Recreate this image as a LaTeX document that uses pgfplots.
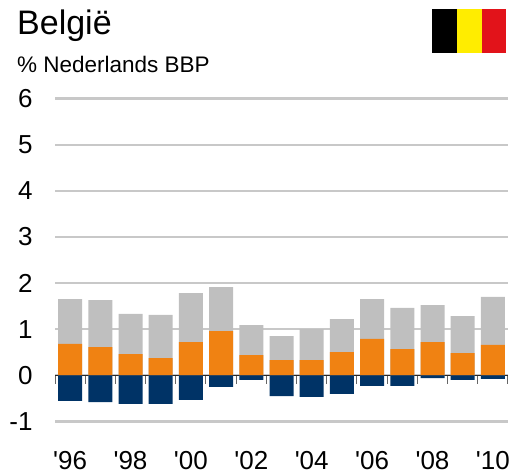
\documentclass[border=0pt]{standalone}
\usepackage{pgfplots}
\usepackage{fontspec}
\setmainfont{Liberation Sans}
\newfontfamily\plainsans{Liberation Sans}
\pgfplotsset{compat=1.18}
\definecolor{gridgrey}{HTML}{C8C8C8}
\definecolor{bargrey}{HTML}{BFBFBF}
\definecolor{barorange}{HTML}{F08212}
\definecolor{barnavy}{HTML}{003366}
\definecolor{flagyellow}{HTML}{FFED00}
\definecolor{flagred}{HTML}{E2131A}
\pgfplotsset{layers/barsfirst/.define layer set={axis background,axis grid,main,axis ticks,axis lines,axis tick labels,axis descriptions,axis foreground}{}}
\begin{document}
\begin{tikzpicture}[x=1pt,y=1pt]
% page frame, 1pt = 1px of the reference
\path (0,0) rectangle (514,473);
\begin{axis}[
    at={(55pt,51.6pt)},anchor=south west,
    scale only axis,
    width=453pt,height=322.7pt,
    set layers=barsfirst,
    xmin=1995.5,xmax=2010.5,
    ymin=-1,ymax=6,
    axis x line=middle,
    axis y line=left,
    axis line style={-},
    x axis line style={draw=black!85,line width=1pt},
    y axis line style={draw=none},
    xtick={1996,1998,...,2010},
    xticklabels={'96,'98,'00,'02,'04,'06,'08,'10},
    minor xtick={1995.5,1996.5,...,2010.5},
    major tick length=0pt,
    minor tick length=8.5pt,
    tick align=outside,
    minor x tick style={draw=black!60,line width=1pt},
    x tick style={draw=none},
    y tick style={draw=none},
    ytick={-1,0,...,6},
    yticklabels={-1,0,1,2,3,4,5,6},
    ymajorgrids=true,
    grid style={draw=gridgrey,line width=2.4pt},
    tick label style={font=\plainsans\fontsize{26}{30}\selectfont},
    xticklabel style={anchor=base,inner sep=0pt,yshift=-94.5pt},
    yticklabel style={anchor=east,xshift=-19pt},
    ybar,
    bar shift=0pt,
    bar width=24pt,
    clip=false,
]
% grey: top of the stack (total), orange in front of it
\addplot[fill=bargrey,draw=none] coordinates {
(1996,1.65)(1997,1.63)(1998,1.33)(1999,1.31)(2000,1.78)(2001,1.91)(2002,1.09)
(2003,0.85)(2004,1.00)(2005,1.22)(2006,1.65)(2007,1.46)(2008,1.52)(2009,1.285)(2010,1.70)};
\addplot[fill=barorange,draw=none] coordinates {
(1996,0.68)(1997,0.61)(1998,0.46)(1999,0.375)(2000,0.72)(2001,0.96)(2002,0.44)
(2003,0.33)(2004,0.33)(2005,0.505)(2006,0.79)(2007,0.57)(2008,0.72)(2009,0.48)(2010,0.66)};
\addplot[fill=barnavy,draw=none] coordinates {
(1996,-0.555)(1997,-0.58)(1998,-0.62)(1999,-0.62)(2000,-0.535)(2001,-0.25)(2002,-0.10)
(2003,-0.45)(2004,-0.47)(2005,-0.405)(2006,-0.23)(2007,-0.23)(2008,-0.06)(2009,-0.10)(2010,-0.08)};
\end{axis}
\node[anchor=base west,inner sep=0pt,font=\fontsize{34}{38}\selectfont] at (17,438) {België};
\node[anchor=base west,inner sep=0pt,font=\fontsize{22.5}{26}\selectfont] at (17,400) {\% Nederlands BBP};
\fill[black] (432,420) rectangle (457,464);
\fill[flagyellow] (457,420) rectangle (482,464);
\fill[flagred] (482,420) rectangle (506,464);
\end{tikzpicture}
\end{document}
